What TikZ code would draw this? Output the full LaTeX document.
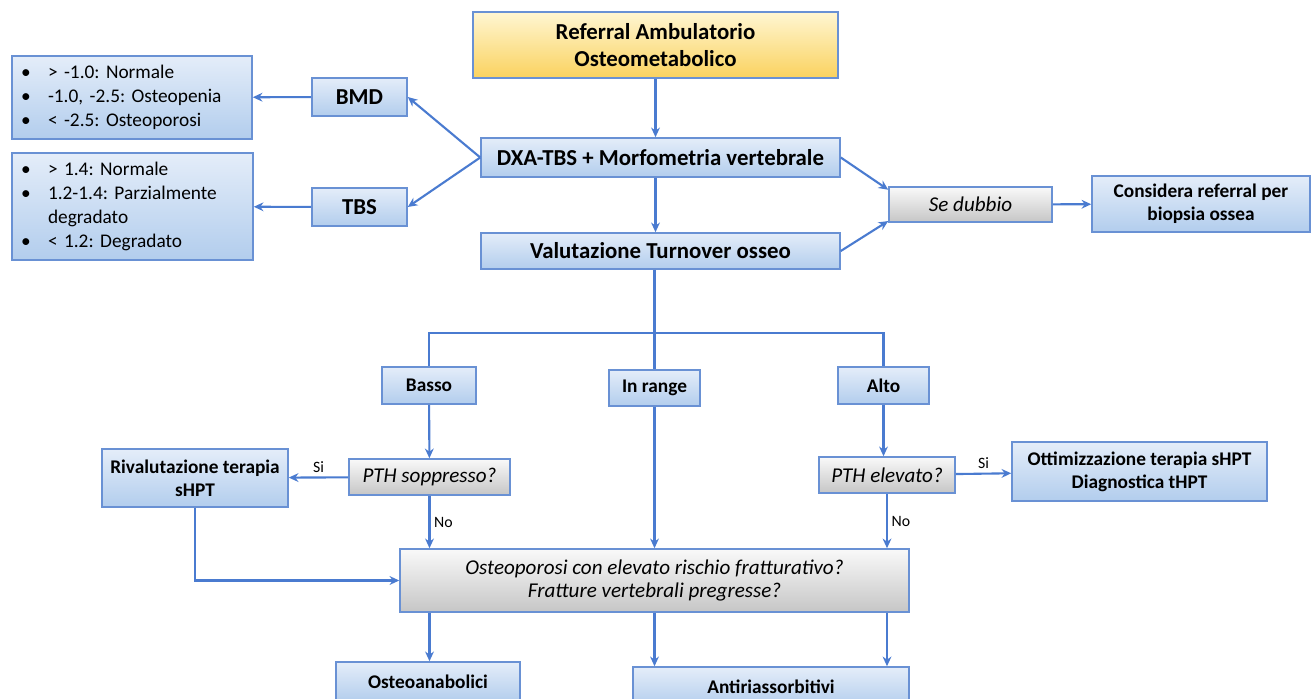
\documentclass[tikz,border=0pt]{standalone}
\usepackage{fontspec}
\setmainfont{Carlito}
\usetikzlibrary{arrows.meta,calc}
\definecolor{bordo}{RGB}{105,145,212}
\definecolor{blulinea}{RGB}{74,123,208}
\definecolor{azzchiaro}{RGB}{228,237,249}
\definecolor{azzscuro}{RGB}{178,205,237}
\definecolor{giallochiaro}{RGB}{255,246,210}
\definecolor{gialloscuro}{RGB}{250,210,95}
\definecolor{grigiochiaro}{RGB}{249,249,249}
\definecolor{grigioscuro}{RGB}{198,198,198}
\newcommand{\punto}{\makebox[0.54cm][l]{\textbullet}}
\frenchspacing
\tikzset{
>={Stealth[length=5.5pt,width=5pt]},
blocco/.style={draw=bordo,line width=0.9pt,top color=azzchiaro,bottom color=azzscuro,
  align=center,inner sep=1pt,font=\fontsize{11}{13}\selectfont\bfseries},
grande/.style={blocco,font=\fontsize{13}{15.3}\selectfont\bfseries},
giallo/.style={grande,top color=giallochiaro,bottom color=gialloscuro},
grigio/.style={blocco,top color=grigiochiaro,bottom color=grigioscuro,
  font=\fontsize{12}{13.6}\selectfont\itshape},
lista/.style={blocco,align=left,inner xsep=0.18cm,font=\fontsize{11}{13.6}\selectfont},
freccia/.style={->,draw=blulinea,line width=1.2pt},
linea/.style={draw=blulinea,line width=1.2pt},
etichetta/.style={font=\fontsize{9}{10}\selectfont,inner sep=2pt}}

\begin{document}
\begin{tikzpicture}[x=0.02cm,y=-0.02cm]
\useasboundingbox (0,0) rectangle (1311,699);
\clip (0,0) rectangle (1311,699);

% colonna centrale
\node[giallo,minimum width=7.3cm,minimum height=1.32cm] (ref) at (655.5,45)
  {Referral Ambulatorio\\Osteometabolico};
\node[grande,minimum width=7.18cm,minimum height=0.78cm] (dxa) at (660.5,157.5)
  {DXA-TBS + Morfometria vertebrale};
\node[grande,minimum width=7.18cm,minimum height=0.72cm] (val) at (660.5,251)
  {Valutazione Turnover osseo};

% BMD e TBS
\node[grande,minimum width=1.9cm,minimum height=0.76cm] (bmd) at (359.5,97) {BMD};
\node[grande,minimum width=1.9cm,minimum height=0.76cm] (tbs) at (359.5,207) {TBS};
\node[lista,text width=4.44cm,minimum height=1.66cm] (lbmd) at (132,97.5)
  {\punto> -1.0: Normale\\\punto-1.0, -2.5: Osteopenia\\\punto< -2.5: Osteoporosi};
\node[lista,text width=4.46cm,minimum height=2.14cm] (ltbs) at (132.5,206.5)
  {\punto> 1.4: Normale\\\punto1.2-1.4: Parzialmente\\\hspace*{0.54cm}degradato\\\punto< 1.2: Degradato};

% biopsia
\node[grigio,minimum width=3.26cm,minimum height=0.7cm] (dubbio) at (970.5,204.5) {Se dubbio};
\node[blocco,minimum width=4.36cm,minimum height=1.12cm] (biopsia) at (1201,204)
  {Considera referral per\\biopsia ossea};

% turnover
\coordinate (snodo) at (655,333);
\node[blocco,minimum width=1.88cm,minimum height=0.74cm] (basso) at (429,385.5) {Basso};
\node[blocco,minimum width=1.82cm,minimum height=0.72cm] (inrange) at (654.5,388) {In range};
\node[blocco,minimum width=1.82cm,minimum height=0.74cm] (alto) at (883.5,385.5) {Alto};
\node[grigio,minimum width=3.22cm,minimum height=0.72cm] (pths) at (429.5,477) {PTH soppresso?};
\node[grigio,minimum width=2.72cm,minimum height=0.72cm] (pthe) at (887,475) {PTH elevato?};
\node[blocco,minimum width=3.72cm,minimum height=1.16cm] (rival) at (195,478)
  {Rivalutazione terapia\\sHPT};
\node[blocco,minimum width=5.1cm,minimum height=1.18cm] (ottim) at (1139.5,471.5)
  {Ottimizzazione terapia sHPT\\Diagnostica tHPT};
\node[grigio,minimum width=10.18cm,minimum height=1.26cm] (osteo) at (654.5,580.5)
  {Osteoporosi con elevato rischio fratturativo?\\Fratture vertebrali pregresse?};
\node[blocco,minimum width=3.68cm,minimum height=0.8cm] (anab) at (428,682) {Osteoanabolici};
\node[blocco,minimum width=5.52cm,minimum height=0.8cm] (antir) at (771,687) {Antiriassorbitivi};

% frecce
\draw[freccia] (ref.south) -- (ref.south |- dxa.north);
\draw[freccia] (ref.south |- dxa.south) -- (ref.south |- val.north);
\draw[freccia] (dxa.west) -- (bmd.east);
\draw[freccia] (dxa.west) -- (tbs.east);
\draw[freccia] (bmd) -- (lbmd);
\draw[freccia] (tbs) -- (ltbs);
\draw[freccia] (dxa.east) -- ([yshift=-2pt]dubbio.north west);
\draw[freccia] (val.east) -- ([yshift=1pt]dubbio.south west);
\draw[freccia] (dubbio) -- (biopsia);
\draw[linea] (inrange |- val.south) -- (inrange.north);
\draw[linea] (basso.north) |- (snodo) -| (alto.north);
\draw[freccia] (basso) -- (pths);
\draw[freccia] (alto.south) -- (alto.south |- pthe.north);
\draw[freccia] (pths) -- node[etichetta,above] {Si} (rival);
\draw[freccia] (pthe) -- node[etichetta,above] {Si} (ottim);
\draw[freccia] (pths.south) -- node[etichetta,right] {No} (pths.south |- osteo.north);
\draw[freccia] (pthe.south) -- node[etichetta,right] {No} (pthe.south |- osteo.north);
\draw[freccia] (inrange) -- (inrange |- osteo.north);
\draw[freccia] (rival.south) |- (osteo.west);
\draw[freccia] (pths |- osteo.south) -- (pths |- anab.north);
\draw[freccia] (inrange |- osteo.south) -- (inrange |- antir.north);
\draw[freccia] (pthe |- osteo.south) -- (pthe |- antir.north);
\end{tikzpicture}
\end{document}
